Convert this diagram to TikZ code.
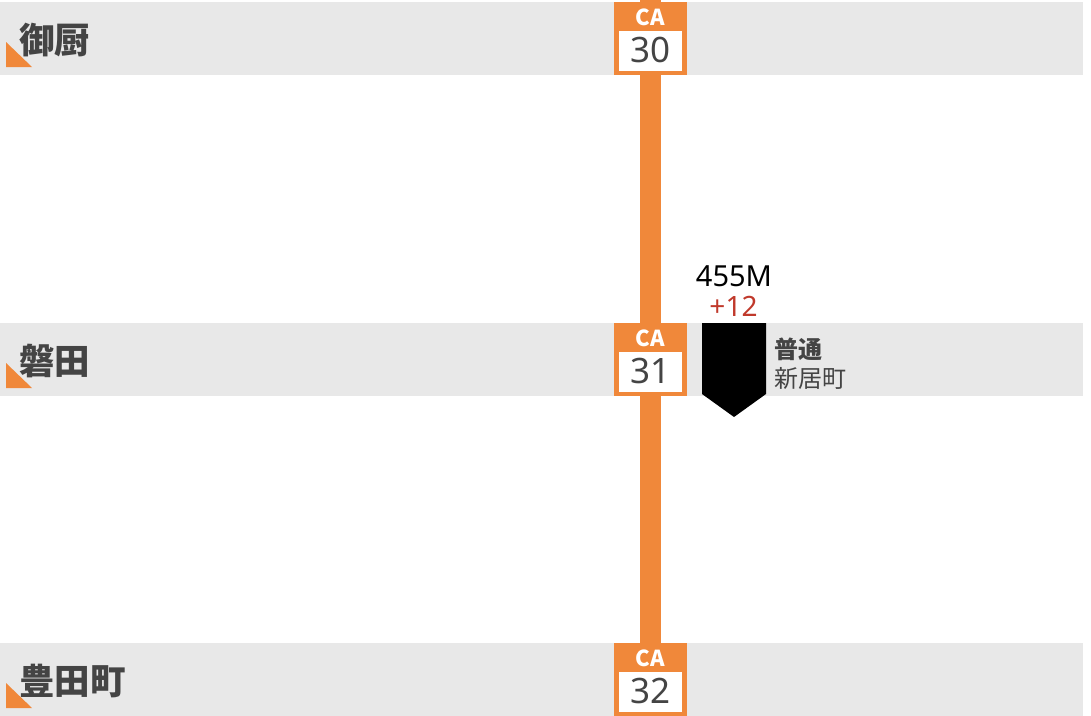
\documentclass[tikz,border=0pt]{standalone}
\usepackage{fontspec}
\setmainfont{Noto Sans}
\newfontfamily\cjk{Noto Sans CJK JP}
\definecolor{lineorange}{HTML}{F0883A}
\definecolor{bandgray}{HTML}{E8E8E8}
\definecolor{txtgray}{HTML}{444444}
\definecolor{delayred}{HTML}{C0392B}
\tikzset{
  band/.style={fill=bandgray, draw=none},
  stname/.style={anchor=west, inner sep=0pt, text=txtgray, font=\cjk\bfseries\fontsize{35.5}{35.5}\selectfont},
  badge/.style={fill=lineorange, draw=none},
  badgein/.style={fill=white, draw=none},
  codetxt/.style={inner sep=0pt, text=white, font=\cjk\bfseries\fontsize{22}{22}\selectfont},
  numtxt/.style={inner sep=0pt, text=txtgray, font=\fontsize{35}{35}\selectfont},
}
\begin{document}
\begin{tikzpicture}[x=1pt,y=-1pt]
\useasboundingbox (0,0) rectangle (1091,715);
% bands
\foreach \t in {2,323,643}{
  \fill[band] (0,\t) rectangle (1083,\t+73);
}
% line
\fill[lineorange] (640,0) rectangle (661,715);
% station badges
\foreach \t/\n in {2/30,323/31,643/32}{
  \fill[badge] (614,\t) rectangle (687,\t+73);
  \fill[badgein] (619,\t+29) rectangle (682,\t+69);
  \node[codetxt] (code\n) at (650.5,\t+15.5) {CA};
  \node[numtxt] (num\n) at (650.5,\t+48) {\n};
}
% station names and corner marks
\foreach \t/\nm/\id in {2/御厨/a,323/磐田/b,643/豊田町/c}{
  \fill[lineorange] (6,\t+40) -- (6,\t+65) -- (32,\t+65) -- cycle;
  \node[stname] (st\id) at (19,\t+38) {\nm};
}
% train
\fill[black] (702,323) -- (766,323) -- (766,394) -- (734,417) -- (702,394) -- cycle;
\node[inner sep=0pt, font=\fontsize{29}{29}\selectfont] (trainno) at (734,276) {455M};
\node[inner sep=0pt, text=delayred, font=\fontsize{28}{28}\selectfont] (delay) at (733.5,306) {+12};
\node[anchor=west, inner sep=0pt, text=txtgray, font=\cjk\bfseries\fontsize{24}{24}\selectfont] (ttype) at (774,349) {普通};
\node[anchor=west, inner sep=0pt, text=txtgray, font=\cjk\fontsize{24}{24}\selectfont] (tdest) at (774,378) {新居町};
\end{tikzpicture}
\end{document}
